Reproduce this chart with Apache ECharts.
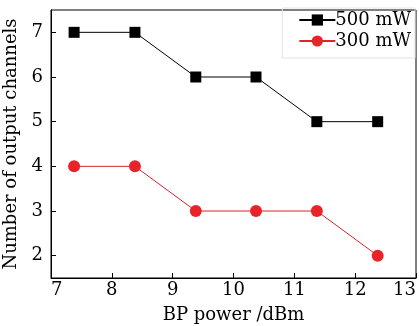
<!DOCTYPE html>
<html><head><meta charset="utf-8">
<script src="https://cdn.jsdelivr.net/npm/echarts@6/dist/echarts.min.js"></script>
<style>html,body{margin:0;padding:0;background:#fff}#c{width:419px;height:326px}</style>
</head><body><div id="c"></div>
<script>
const bpPower = [7.38, 8.38, 9.38, 10.37, 11.37, 12.37];
const ch500 = [7, 7, 6, 6, 5, 5];
const ch300 = [4, 4, 3, 3, 3, 2];
const seriesNames = ['500 mW', '300 mW'];
const xTitle = 'BP power /dBm';
const yTitle = 'Number of output channels';
const yTicks = [2, 3, 4, 5, 6, 7];

const font = 'DejaVu Serif';
const chart = echarts.init(document.getElementById('c'));
const pair = (xs, ys) => xs.map((x, i) => [x, ys[i]]);
chart.setOption({
  animation: false,
  backgroundColor: '#fff',
  grid: {left: 51, right: 3, top: 10, bottom: 48, outerBoundsMode: 'none', containLabel: false,
    show: true, borderColor: '#000', borderWidth: 1},
  legend: {
    right: 4, top: 8, orient: 'vertical', itemGap: 3, itemWidth: 36, itemHeight: 14,
    borderColor: '#e4e4e4', borderWidth: 1, padding: [3, 4, 8, 16],
    textStyle: {fontFamily: font, fontSize: 18, color: '#000', padding: [0, 0, 0, -5]},
    data: seriesNames
  },
  xAxis: {
    type: 'value', min: 7, max: 13, interval: 1,
    name: xTitle, nameLocation: 'middle', nameGap: 28,
    nameTextStyle: {fontFamily: font, fontSize: 18, color: '#000'},
    axisLine: {show: true, lineStyle: {color: '#000', width: 1}},
    axisTick: {inside: true, length: 5, lineStyle: {color: '#000'}},
    axisLabel: {fontFamily: font, fontSize: 18, color: '#000', margin: 3,
      alignMinLabel: 'left', alignMaxLabel: 'right'},
    splitLine: {show: false}
  },
  yAxis: {
    type: 'value', min: 1.5, max: 7.5,
    name: yTitle, nameLocation: 'middle', nameGap: 26,
    nameTextStyle: {fontFamily: font, fontSize: 18, color: '#000'},
    axisLine: {show: true, lineStyle: {color: '#000', width: 1}},
    axisTick: {inside: true, length: 5, lineStyle: {color: '#000'}, customValues: yTicks},
    axisLabel: {fontFamily: font, fontSize: 18, color: '#000', margin: 8, customValues: yTicks},
    splitLine: {show: false}
  },
  series: [
    {name: seriesNames[0], type: 'line', data: pair(bpPower, ch500), symbol: 'rect', symbolSize: 11,
     itemStyle: {color: '#000'}, lineStyle: {color: '#000', width: 1}},
    {name: seriesNames[1], type: 'line', data: pair(bpPower, ch300), symbol: 'circle', symbolSize: 12,
     itemStyle: {color: '#e8232a'}, lineStyle: {color: '#d8262c', width: 1}}
  ]
});
</script></body></html>
